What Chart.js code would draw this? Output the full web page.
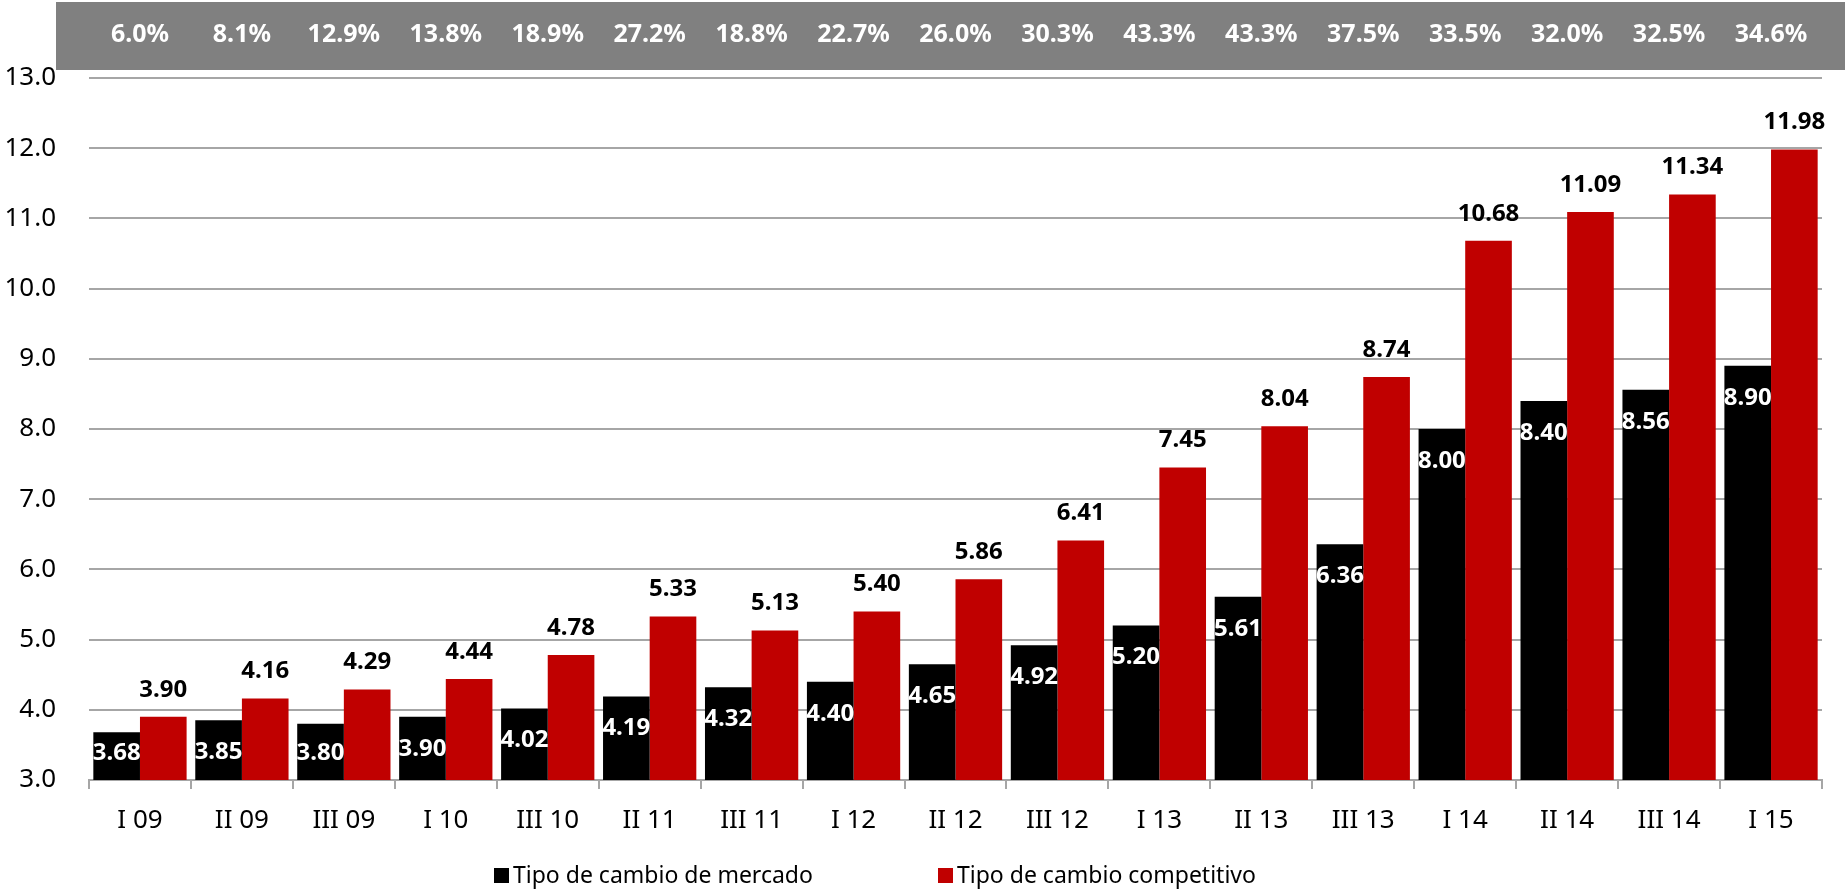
<!DOCTYPE html>
<html>
<head>
<meta charset="utf-8">
<script src="https://cdn.jsdelivr.net/npm/chart.js@4"></script>
<style>
    body { margin: 0; background: #fff; }
</style>
</head>
<body>
<canvas id="tcChart" width="1845" height="890"></canvas>
<script>
// quarters
var labels = ['I 09', 'II 09', 'III 09', 'I 10', 'III 10', 'II 11', 'III 11', 'I 12', 'II 12',
    'III 12', 'I 13', 'II 13', 'III 13', 'I 14', 'II 14', 'III 14', 'I 15']
// Tipo de cambio de mercado
var mercado = [3.68, 3.85, 3.80, 3.90, 4.02, 4.19, 4.32, 4.40, 4.65, 4.92, 5.20, 5.61, 6.36, 8.00, 8.40, 8.56, 8.90]
// Tipo de cambio competitivo
var competitivo = [3.90, 4.16, 4.29, 4.44, 4.78, 5.33, 5.13, 5.40, 5.86, 6.41, 7.45, 8.04, 8.74, 10.68, 11.09, 11.34, 11.98]
// brecha (%) shown in the grey band
var brecha = [6.0, 8.1, 12.9, 13.8, 18.9, 27.2, 18.8, 22.7, 26.0, 30.3, 43.3, 43.3, 37.5, 33.5, 32.0, 32.5, 34.6]

var fontFamily = "'Noto Sans', 'DejaVu Sans', sans-serif"
Chart.defaults.font.family = fontFamily
Chart.defaults.color = '#000'

//values on the bars
var barLabels = {
    id: 'barLabels',
    afterDatasetsDraw: function (chart) {
        var ctx = chart.ctx
        var bottom = chart.chartArea.bottom
        ctx.save()
        ctx.font = 'bold 24px ' + fontFamily
        ctx.textAlign = 'center'
        ctx.textBaseline = 'middle'
        ctx.fillStyle = '#fff'
        chart.getDatasetMeta(0).data.forEach(function (bar, i) {
            var y = Math.min(bar.y + 32, bottom - 27)
            ctx.fillText(mercado[i].toFixed(2), bar.x, y)
        })
        ctx.fillStyle = '#000'
        chart.getDatasetMeta(1).data.forEach(function (bar, i) {
            ctx.fillText(competitivo[i].toFixed(2), bar.x, bar.y - 27)
        })
        ctx.restore()
    }
}

//grey band with the % gap
var banner = {
    id: 'banner',
    beforeDraw: function (chart) {
        var ctx = chart.ctx
        var x = chart.scales.x
        ctx.save()
        ctx.fillStyle = '#808080'
        ctx.fillRect(56, 2, chart.width - 56, 68)
        ctx.font = 'bold 25px ' + fontFamily
        ctx.textAlign = 'center'
        ctx.textBaseline = 'middle'
        ctx.fillStyle = '#fff'
        brecha.forEach(function (v, i) {
            ctx.fillText(v.toFixed(1) + '%', x.getPixelForValue(i), 35)
        })
        ctx.restore()
    }
}

//legend drawn by hand (wide spacing)
var legendItems = {
    id: 'legendItems',
    afterDraw: function (chart) {
        var ctx = chart.ctx
        var lefts = [494, 938]
        var y = 876
        ctx.save()
        ctx.font = '23px ' + fontFamily
        ctx.textAlign = 'left'
        ctx.textBaseline = 'middle'
        chart.data.datasets.forEach(function (ds, i) {
            ctx.fillStyle = ds.backgroundColor
            ctx.fillRect(lefts[i], y - 8, 15, 15)
            ctx.fillStyle = '#000'
            ctx.fillText(ds.label, lefts[i] + 19, y)
        })
        ctx.restore()
    }
}

var ctx = document.getElementById('tcChart').getContext('2d')
new Chart(ctx, {
    type: 'bar',
    data: {
        labels: labels,
        datasets: [
            {
                label: 'Tipo de cambio de mercado',
                data: mercado,
                backgroundColor: '#000000'
            },
            {
                label: 'Tipo de cambio competitivo',
                data: competitivo,
                backgroundColor: '#c00000'
            }
        ]
    },
    options: {
        responsive: false,
        animation: false,
        datasets: {
            bar: { categoryPercentage: 0.915, barPercentage: 1.0 }
        },
        layout: { padding: { top: 78, right: 23, left: 0, bottom: 0 } },
        plugins: {
            legend: { display: false },
            tooltip: { enabled: false }
        },
        scales: {
            x: {
                grid: { offset: true, drawOnChartArea: false, drawTicks: true, tickLength: 9, color: '#a6a6a6', lineWidth: 2 },
                border: { color: '#a6a6a6', width: 2 },
                ticks: { font: { size: 26 }, padding: 16, maxRotation: 0, autoSkip: false },
                afterFit: function (s) { s.height = 110 }
            },
            y: {
                min: 3,
                max: 13,
                ticks: {
                    stepSize: 1,
                    font: { size: 26 },
                    padding: 33,
                    callback: function (v) { return v.toFixed(1) }
                },
                grid: { color: '#a6a6a6', lineWidth: 2, drawTicks: false },
                border: { display: false },
                afterFit: function (s) { s.width = 89 }
            }
        }
    },
    plugins: [banner, barLabels, legendItems]
})
</script>
</body>
</html>
